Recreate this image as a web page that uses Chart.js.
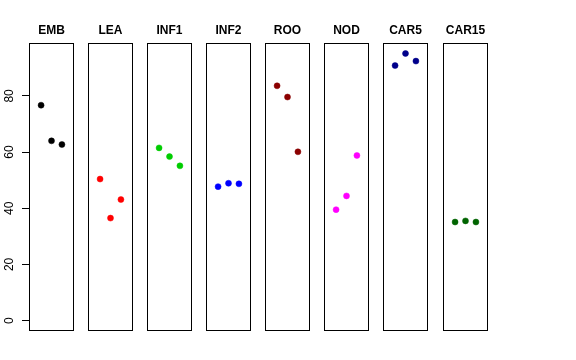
<!DOCTYPE html>
<html>
<head>
<meta charset="utf-8">
<script src="https://cdn.jsdelivr.net/npm/chart.js@4/dist/chart.umd.min.js"></script>
<style>
  body { margin: 0; background: #fff; }
  #wrap { position: relative; width: 576px; height: 360px; background: #fff; }
  #wrap canvas { position: absolute; top: 0; }
</style>
</head>
<body>
<div id="wrap"></div>
<script>
// panels and their values (3 points each)
const tissues = ['EMB', 'LEA', 'INF1', 'INF2', 'ROO', 'NOD', 'CAR5', 'CAR15'];
const colors = ['#000000', '#FF0000', '#00CD00', '#0000FF', '#8B0000', '#FF00FF', '#00008B', '#006400'];
const EMB = [76.7, 64.0, 62.7];
const LEA = [50.4, 36.5, 43.1];
const INF1 = [61.5, 58.4, 55.1];
const INF2 = [47.7, 48.9, 48.7];
const ROO = [83.6, 79.6, 60.1];
const NOD = [39.5, 44.4, 58.8];
const CAR5 = [90.8, 95.1, 92.4];
const CAR15 = [35.1, 35.5, 35.1];
const values = [EMB, LEA, INF1, INF2, ROO, NOD, CAR5, CAR15];
const yTicks = [0, 20, 40, 60, 80];

const FONT = 'Liberation Sans, Arial, Helvetica, sans-serif';

//枠を描く
const framePlugin = {
  id: 'frame',
  beforeDatasetsDraw(chart) {
    const a = chart.chartArea;
    const ctx = chart.ctx;
    ctx.save();
    ctx.strokeStyle = '#000';
    ctx.lineWidth = 1;
    ctx.strokeRect(Math.round(a.left) + 0.5, Math.round(a.top) + 0.5,
      Math.round(a.right - a.left) - 1, Math.round(a.bottom - a.top) - 1);
    ctx.restore();
  }
};

const wrap = document.getElementById('wrap');
const lefts = [29, 88, 147, 206, 265, 324, 383, 443];
const axisW = 29;

for (let i = 0; i < tissues.length; i++) {
  const first = i === 0;
  const cv = document.createElement('canvas');
  const w = first ? 45 + axisW : 45;
  cv.style.left = (first ? 0 : lefts[i]) + 'px';
  cv.style.width = w + 'px';
  cv.style.height = '331px';
  cv.width = w;
  cv.height = 331;
  wrap.appendChild(cv);

  const yScale = {
    type: 'linear',
    min: -3.7,
    max: 98.7,
    display: first,
  };
  if (first) {
    Object.assign(yScale, {
      afterFit(scale) {
        scale.width = axisW;
        scale.paddingTop = 0;
        scale.paddingBottom = 0;
      },
      afterBuildTicks(scale) { scale.ticks = yTicks.map(v => ({ value: v })); },
      border: { display: false },
      grid: { display: true, drawOnChartArea: false, drawTicks: true, tickLength: 7, color: '#000' },
      ticks: {
        color: '#000',
        font: { family: FONT, size: 12 },
        minRotation: 90,
        maxRotation: 90,
        crossAlign: 'center',
        padding: 6,
      },
    });
  }

  new Chart(cv, {
    type: 'scatter',
    data: {
      datasets: [{
        data: values[i].map((v, k) => ({ x: k + 1, y: v })),
        backgroundColor: colors[i],
        borderColor: colors[i],
        pointRadius: 3,
        pointBorderWidth: 0.5,
      }],
    },
    options: {
      responsive: false,
      animation: false,
      layout: { padding: 0, autoPadding: false },
      plugins: {
        legend: { display: false },
        tooltip: { enabled: false },
        title: {
          display: true,
          text: tissues[i],
          fullSize: false,
          color: '#000',
          font: { family: FONT, size: 12, weight: 'bold', lineHeight: 1.2 },
          padding: { top: 23, bottom: 6 },
        },
      },
      scales: {
        x: { type: 'linear', min: -0.16, max: 4.16, display: false },
        y: yScale,
      },
    },
    plugins: [framePlugin],
  });
}
</script>
</body>
</html>
